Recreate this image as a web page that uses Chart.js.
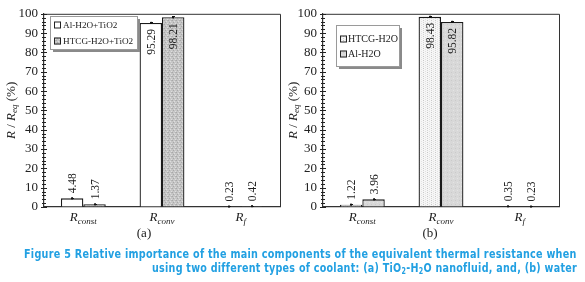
<!DOCTYPE html>
<html><head><meta charset="utf-8">
<script src="https://cdn.jsdelivr.net/npm/chart.js@4"></script>
<style>
body{margin:0;background:#fff;width:585px;height:282px;overflow:hidden;position:relative;}
canvas{position:absolute;top:0;}
#ca{left:0;}
#cb{left:279px;}
.pl{position:absolute;top:225px;font:13px "Liberation Serif",serif;color:#222;transform:translateX(-50%);}
.cap{position:absolute;font:bold 12px "DejaVu Sans Condensed","DejaVu Sans",sans-serif;color:#22a0e2;white-space:nowrap;line-height:12px;letter-spacing:0.3px;}
.cap sub{font-size:8px;vertical-align:-2px;line-height:0;}
</style></head>
<body>
<canvas id="ca" width="290" height="240"></canvas>
<canvas id="cb" width="290" height="240"></canvas>
<div class="pl" style="left:144px">(a)</div>
<div class="pl" style="left:430px">(b)</div>
<div id="cap1" class="cap" style="left:24px;top:248px">Figure 5 Relative importance of the main components of the equivalent thermal resistance when</div>
<div id="cap2" class="cap" style="top:262px">using two different types of coolant: (a) TiO<sub>2</sub>-H<sub>2</sub>O nanofluid, and, (b) water</div>
<script>
// ---- data ----
const categoryBase = ['R', 'R', 'R'];
const categorySub = ['const', 'conv', 'f'];
const yTicks = [0, 10, 20, 30, 40, 50, 60, 70, 80, 90, 100];

const seriesA1Label = 'Al-H2O+TiO2';
const seriesA1 = [4.48, 95.29, 0.23];
const seriesA1Err = [0.4, 0.5, 0.2];
const seriesA2Label = 'HTCG-H2O+TiO2';
const seriesA2 = [1.37, 98.21, 0.42];
const seriesA2Err = [0.3, 0.5, 0.2];

const seriesB1Label = 'HTCG-H2O';
const seriesB1 = [1.22, 98.43, 0.35];
const seriesB1Err = [0.3, 0.5, 0.2];
const seriesB2Label = 'Al-H2O';
const seriesB2 = [3.96, 95.82, 0.23];
const seriesB2Err = [0.4, 0.5, 0.2];

// ---- patterns ----
function makePattern(base, dots, size) {
  const c = document.createElement('canvas');
  c.width = size; c.height = size;
  const g = c.getContext('2d');
  g.fillStyle = base; g.fillRect(0, 0, size, size);
  dots.forEach(d => { g.fillStyle = d[2]; g.fillRect(d[0], d[1], 1, 1); });
  return g.createPattern(c, 'repeat');
}
const fillWhite = '#ffffff';
const fillGrayStipple = makePattern('#c6c6c6', [[0,0,'#a8a8a8'],[2,1,'#dedede'],[1,2,'#a8a8a8'],[3,3,'#dedede'],[3,0,'#b4b4b4']], 4);
const fillLightDots = makePattern('#f6f6f6', [[0,0,'#c8c8c8'],[0,2,'#d4d4d4'],[2,1,'#e2e2e2'],[2,3,'#e2e2e2']], 4);
const fillLightGray = makePattern('#d8d8d8', [[0,0,'#cacaca'],[2,2,'#e4e4e4']], 4);

const TXT = '#222';

function decorPlugin(opts) {
  return {
    id: 'decor',
    afterDraw(chart) {
      const ctx = chart.ctx;
      const a = chart.chartArea;
      const xs = chart.scales.x, ys = chart.scales.y;
      ctx.save();
      // frame top/right
      ctx.strokeStyle = '#333'; ctx.lineWidth = 1;
      ctx.beginPath();
      ctx.moveTo(a.left, a.top + 0.5); ctx.lineTo(a.right + 0.5, a.top + 0.5); ctx.lineTo(a.right + 0.5, a.bottom);
      ctx.stroke();
      // y ticks (major+minor, crossing axis)
      ctx.strokeStyle = '#222';
      ctx.beginPath();
      for (let v = 0; v <= 100; v += 2) {
        const y = Math.round(ys.getPixelForValue(v)) + 0.5;
        const L = (v % 10 === 0) ? 3 : 2;
        ctx.moveTo(a.left - L, y); ctx.lineTo(a.left + L, y);
      }
      ctx.stroke();
      // error whiskers + data labels
      chart.data.datasets.forEach((ds, i) => {
        const meta = chart.getDatasetMeta(i);
        meta.data.forEach((el, j) => {
          const v = ds.data[j];
          const e = ds.err[j];
          const x = Math.round(el.x) + 0.5;
          const y1 = ys.getPixelForValue(v + e), y2 = ys.getPixelForValue(v - e);
          ctx.strokeStyle = '#111'; ctx.lineWidth = 1;
          ctx.beginPath();
          ctx.moveTo(x, y1); ctx.lineTo(x, y2);
          ctx.moveTo(x - 1.5, Math.round(y1) + 0.5); ctx.lineTo(x + 1.5, Math.round(y1) + 0.5);
          ctx.stroke();
          ctx.fillStyle = '#111';
          ctx.fillRect(x - 1.5, el.y - 1, 2, 2);
          ctx.save();
          ctx.translate(el.x + 1, el.y);
          ctx.rotate(-Math.PI / 2);
          ctx.font = '11.5px "Liberation Serif", serif';
          ctx.fillStyle = TXT;
          ctx.textBaseline = 'middle';
          if (v > 50) { ctx.textAlign = 'right'; ctx.fillText(v.toFixed(2), -6, 0); }
          else { ctx.textAlign = 'left'; ctx.fillText(v.toFixed(2), 5, 0); }
          ctx.restore();
        });
      });
      // x category labels with subscripts
      categoryBase.forEach((b, i) => {
        const cx = xs.getPixelForValue(i);
        const fm = 'italic 13px "Liberation Serif", serif', fs = 'italic 9px "Liberation Serif", serif';
        ctx.font = fm; const w1 = ctx.measureText(b).width;
        ctx.font = fs; const w2 = ctx.measureText(categorySub[i]).width;
        const x0 = cx - (w1 + w2) / 2;
        ctx.fillStyle = TXT; ctx.textAlign = 'left'; ctx.textBaseline = 'alphabetic';
        ctx.font = fm; ctx.fillText(b, x0, 221);
        ctx.font = fs; ctx.fillText(categorySub[i], x0 + w1, 224);
      });
      // y title
      ctx.save();
      ctx.translate(opts.titleX, (a.top + a.bottom) / 2);
      ctx.rotate(-Math.PI / 2);
      const parts = [['R', 'italic 13px', 0], [' / ', '13px', 0], ['R', 'italic 13px', 0], ['eq', 'italic 9px', 3], [' (%)', '13px', 0]];
      let tw = 0;
      parts.forEach(p => { ctx.font = p[1] + ' "Liberation Serif", serif'; tw += ctx.measureText(p[0]).width; });
      let px = -tw / 2;
      ctx.fillStyle = TXT; ctx.textAlign = 'left'; ctx.textBaseline = 'middle';
      parts.forEach(p => { ctx.font = p[1] + ' "Liberation Serif", serif'; ctx.fillText(p[0], px, p[2]); px += ctx.measureText(p[0]).width; });
      ctx.restore();
      // legend
      const L = opts.legend;
      ctx.fillStyle = '#8a8a8a';
      ctx.fillRect(L.x + 3, L.y + 3, L.w, L.h);
      ctx.fillStyle = '#fff';
      ctx.fillRect(L.x, L.y, L.w, L.h);
      ctx.strokeStyle = '#9a9a9a';
      ctx.strokeRect(L.x + 0.5, L.y + 0.5, L.w, L.h);
      chart.data.datasets.forEach((ds, i) => {
        const ry = L.rows[i];
        ctx.fillStyle = ds.backgroundColor;
        ctx.fillRect(L.sx, ry - 3.5, 7, 7);
        ctx.strokeStyle = '#222';
        ctx.strokeRect(L.sx + 0.5, ry - 3.5 + 0.5, 6, 6);
        ctx.fillStyle = TXT; ctx.font = L.font + 'px "Liberation Serif", serif';
        ctx.textAlign = 'left'; ctx.textBaseline = 'middle';
        ctx.fillText(ds.label, L.tx, ry + 0.5);
      });
      ctx.restore();
    }
  };
}

function makeChart(id, sets, opts) {
  const labels = categoryBase.map((b, i) => b + categorySub[i]);
  return new Chart(document.getElementById(id), {
    type: 'bar',
    data: {
      labels: labels,
      datasets: sets.map(s => ({
        label: s.label, data: s.data, err: s.err,
        backgroundColor: s.fill, borderColor: '#1a1a1a', borderWidth: 1.3,
        categoryPercentage: 0.57, barPercentage: 1.0
      }))
    },
    options: {
      responsive: false, animation: false, devicePixelRatio: 1,
      layout: { padding: { top: 12, right: 10, left: 0, bottom: 0 } },
      plugins: { legend: { display: false }, tooltip: { enabled: false } },
      scales: {
        x: {
          ticks: { display: false },
          grid: { display: false },
          border: { display: true, color: '#333', width: 1.2 },
          afterFit: s => { s.height = 33; }
        },
        y: {
          min: 0, max: 100,
          afterBuildTicks: s => { s.ticks = yTicks.map(v => ({ value: v })); },
          ticks: { color: TXT, font: { family: '"Liberation Serif", serif', size: 13 }, padding: 6 },
          grid: { display: true, drawOnChartArea: false, drawTicks: false },
          border: { display: true, color: '#333', width: 1.2 },
          afterFit: s => { s.width = 44; }
        }
      }
    },
    plugins: [decorPlugin(opts)]
  });
}

makeChart('ca', [
  { label: seriesA1Label, data: seriesA1, err: seriesA1Err, fill: fillWhite },
  { label: seriesA2Label, data: seriesA2, err: seriesA2Err, fill: fillGrayStipple }
], { titleX: 12, legend: { x: 50, y: 16, w: 87, h: 33, sx: 54, tx: 63, rows: [25, 41], font: 9.2 } });

makeChart('cb', [
  { label: seriesB1Label, data: seriesB1, err: seriesB1Err, fill: fillLightDots },
  { label: seriesB2Label, data: seriesB2, err: seriesB2Err, fill: fillLightGray }
], { titleX: 15, legend: { x: 57, y: 25, w: 63, h: 41, sx: 61, tx: 69, rows: [39, 54], font: 10 } });

// caption fitting
function fit(el, w, origin) {
  const nat = el.scrollWidth;
  el.style.transformOrigin = origin;
  el.style.transform = 'scaleX(' + (w / nat) + ')';
}
const c1 = document.getElementById('cap1');
fit(c1, 553, 'left top');
const c2 = document.getElementById('cap2');
c2.style.left = (577 - c2.scrollWidth) + 'px';
fit(c2, 425, 'right top');
</script>
</body></html>
